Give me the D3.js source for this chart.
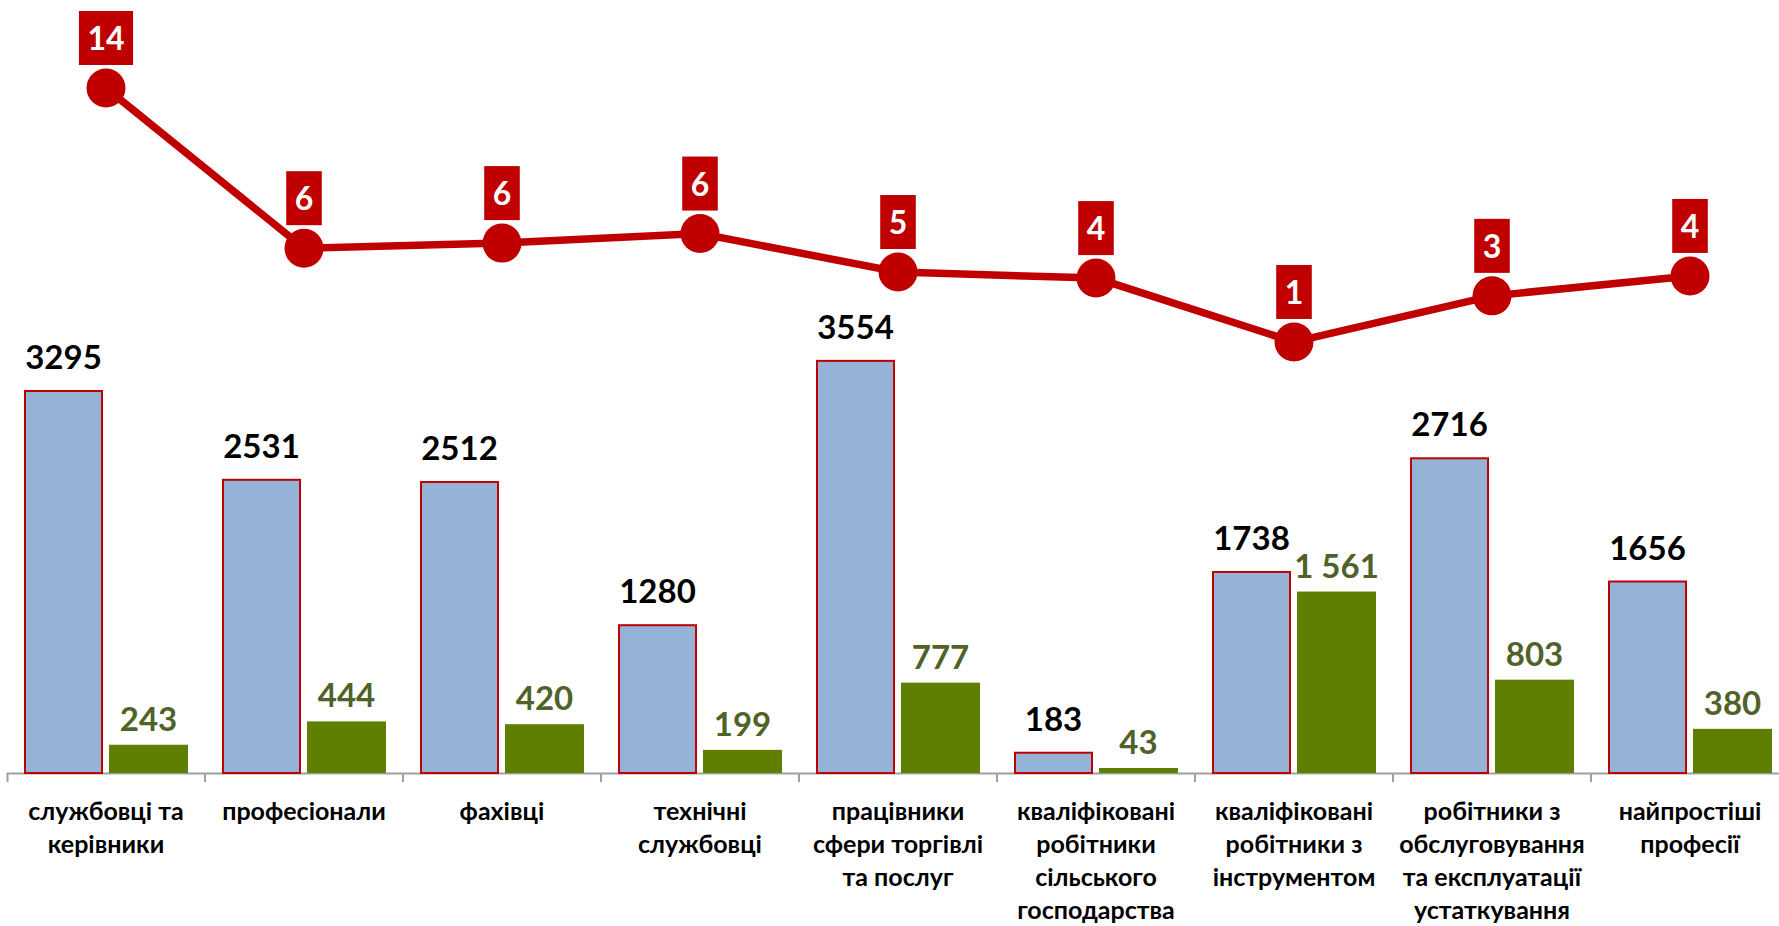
<!DOCTYPE html>
<html>
<head>
<meta charset="utf-8">
<script src="https://cdn.jsdelivr.net/npm/d3@7"></script>
<style>
  body { margin: 0; background: #fff; }
  svg { display: block; }
  text { font-family: Lato, "Open Sans", sans-serif; font-weight: bold; }
</style>
</head>
<body>
<div id="vis"></div>
<script>
var width = 1779;
var height = 926;

// categories (each item = lines of the label)
const categories = [
  ["службовці та", "керівники"],
  ["професіонали"],
  ["фахівці"],
  ["технічні", "службовці"],
  ["працівники", "сфери торгівлі", "та послуг"],
  ["кваліфіковані", "робітники", "сільського", "господарства"],
  ["кваліфіковані", "робітники з", "інструментом"],
  ["робітники з", "обслуговування", "та експлуатації", "устаткування"],
  ["найпростіші", "професії"]
];
const blueValues = [3295, 2531, 2512, 1280, 3554, 183, 1738, 2716, 1656];
const greenValues = [243, 444, 420, 199, 777, 43, 1561, 803, 380];
// line series (position) and the labels printed on it
const lineValues = [14.0, 5.8, 6.06, 6.55, 4.58, 4.27, 1.0, 3.36, 4.38];
const lineLabels = ["14", "6", "6", "6", "5", "4", "1", "3", "4"];

const RED = "#C00000";
const BLUE = "#95B3D7";
const GREEN = "#5F7F00";
const GREEN_TEXT = "#4F6228";

var svg = d3.select("#vis").append("svg")
  .attr("width", width)
  .attr("height", height);

var axisY = 773;
var idx = d3.range(categories.length);

var x = d3.scaleBand().domain(idx).range([7, 7 + 198 * categories.length]);
var xSub = d3.scaleBand().domain(["blue", "green"])
  .range([0, x.bandwidth()]).paddingInner(0.07).paddingOuter(0.2);

var yBar = d3.scaleLinear().domain([0, 6650]).range([axisY, 0]);
var yLine = d3.scaleLinear().domain([0, 14]).range([361.5, 88]);

var fmtGreen = d3.formatLocale({ decimal: ",", thousands: " ", grouping: [3], currency: ["", ""] }).format(",d");

// axis
var axis = svg.append("g")
  .attr("transform", "translate(0," + axisY + ")")
  .call(d3.axisBottom(x).tickSizeInner(0).tickSizeOuter(9).tickFormat(""));
axis.select(".domain").attr("stroke", "#A0A0A0").attr("stroke-width", 2);
axis.selectAll(".tick").remove();

axis.selectAll(".sep")
  .data(idx.slice(1))
  .enter().append("line")
  .attr("x1", function (d) { return x(d); })
  .attr("x2", function (d) { return x(d); })
  .attr("y1", 0).attr("y2", 9)
  .attr("stroke", "#A0A0A0").attr("stroke-width", 2);

// bars
var groups = svg.selectAll(".cat")
  .data(idx)
  .enter().append("g")
  .attr("transform", function (d) { return "translate(" + x(d) + ",0)"; });

groups.append("rect")
  .attr("x", xSub("blue") + 1)
  .attr("y", function (d) { return yBar(blueValues[d]) + 1; })
  .attr("width", xSub.bandwidth() - 2)
  .attr("height", function (d) { return axisY - yBar(blueValues[d]) - 1; })
  .attr("fill", BLUE)
  .attr("stroke", RED)
  .attr("stroke-width", 2);

groups.append("rect")
  .attr("x", xSub("green"))
  .attr("y", function (d) { return yBar(greenValues[d]); })
  .attr("width", xSub.bandwidth())
  .attr("height", function (d) { return axisY - yBar(greenValues[d]); })
  .attr("fill", GREEN);

groups.append("text")
  .attr("x", xSub("blue") + xSub.bandwidth() / 2)
  .attr("y", function (d) { return yBar(blueValues[d]) - 21; })
  .attr("text-anchor", "middle")
  .attr("font-size", 33)
  .attr("fill", "#000")
  .text(function (d) { return blueValues[d]; });

groups.append("text")
  .attr("x", xSub("green") + xSub.bandwidth() / 2)
  .attr("y", function (d) { return yBar(greenValues[d]) - 14; })
  .attr("text-anchor", "middle")
  .attr("font-size", 33)
  .attr("fill", GREEN_TEXT)
  .text(function (d) { return fmtGreen(greenValues[d]); });

// category labels
groups.append("text")
  .attr("text-anchor", "middle")
  .attr("font-size", 25)
  .attr("fill", "#000")
  .selectAll("tspan")
  .data(function (d) { return categories[d]; })
  .enter().append("tspan")
  .attr("x", x.bandwidth() / 2)
  .attr("y", function (d, i) { return 820 + i * 33; })
  .text(function (d) { return d; });

// line
var line = d3.line()
  .x(function (d) { return x(d) + x.bandwidth() / 2; })
  .y(function (d) { return yLine(lineValues[d]); });

svg.append("path")
  .datum(idx)
  .attr("d", line)
  .attr("fill", "none")
  .attr("stroke", RED)
  .attr("stroke-width", 7.5);

svg.selectAll(".dot")
  .data(idx)
  .enter().append("circle")
  .attr("cx", function (d) { return x(d) + x.bandwidth() / 2; })
  .attr("cy", function (d) { return yLine(lineValues[d]); })
  .attr("r", 19.5)
  .attr("fill", RED);

var tags = svg.selectAll(".tag")
  .data(idx)
  .enter().append("g")
  .attr("transform", function (d) {
    return "translate(" + (x(d) + x.bandwidth() / 2) + "," + (yLine(lineValues[d]) - 23) + ")";
  });

var tagRects = tags.append("rect").attr("fill", RED);
var tagTexts = tags.append("text")
  .attr("text-anchor", "middle")
  .attr("y", -15)
  .attr("font-size", 32)
  .attr("fill", "#fff")
  .text(function (d) { return lineLabels[d]; });

tagTexts.each(function (d) {
  var w = this.getComputedTextLength() + 17;
  d3.select(this.parentNode).select("rect")
    .attr("x", -w / 2)
    .attr("y", -54)
    .attr("width", w)
    .attr("height", 54);
});
</script>
</body>
</html>
